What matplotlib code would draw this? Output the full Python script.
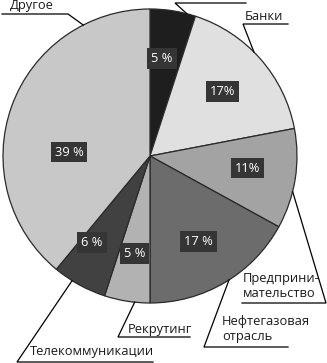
import numpy as np
import matplotlib.pyplot as plt

plt.rcParams['font.family'] = ['Open Sans', 'DejaVu Sans']

# ---------- Data ----------
categories = ["", "Банки", "Предприни-\nмательство", "Нефтегазовая\nотрасль",
              "Рекрутинг", "Телекоммуникации", "Другое"]
values = [5, 17, 11, 17, 5, 6, 39]
pct_labels = ["5 %", "17%", "11%", "17 %", "5 %", "6 %", "39 %"]
colors = ["#1e1e1e", "#e0e0e0", "#a3a3a3", "#6c6c6c", "#b2b2b2", "#414141", "#c8c8c8"]

W, H = 327, 363
cx, cy, R = 150, H - 156, 147

fig = plt.figure(figsize=(W / 100, H / 100), dpi=100)
ax = fig.add_axes([0, 0, 1, 1])

wedges, _ = ax.pie(values, colors=colors, startangle=90, counterclock=False,
                   center=(cx, cy), radius=R,
                   wedgeprops=dict(edgecolor="#2a2a2a", linewidth=0.9))
ax.set_xlim(0, W)
ax.set_ylim(0, H)
ax.set_aspect("equal")
ax.axis("off")

def pt(angle_cw, r):
    # angle measured clockwise from 12 o'clock
    t = np.radians(90 - angle_cw)
    return cx + r * np.cos(t), cy + r * np.sin(t)

# ---------- percent boxes ----------
cum = np.cumsum([0] + values)
mids = [(cum[i] + cum[i + 1]) / 2 * 3.6 for i in range(len(values))]
box_r = [0.67, 0.66, 0.67, 0.67, 0.67, 0.71, 0.55]
box_shift = [-2, 0, -2, 1, 0, 5, -17]
for m, r, s, lab in zip(mids, box_r, box_shift, pct_labels):
    x, y = pt(m + s, r * R)
    ax.text(x, y, lab, color="white", fontsize=9.3, ha="center", va="center",
            bbox=dict(boxstyle="square,pad=0.3", fc="#353535", ec="none"))

# ---------- callouts ----------
edge_ang = [14.5, 45, 104, 147.5, 186, 212, 333]
elbow = [(175, 3), (243, 24), (326, 303), (204, 347), (118, 337), (17, 362), (68, 14)]
under_end = [246, 288, 242, 288, 190, 153, 2]
text_pos = [(180, -8), (245, 16), (243, 286), (222, 329), (128, 329), (30, 352), (10, 6)]

for a, (ex, ey), ux, (tx, ty), name in zip(edge_ang, elbow, under_end, text_pos, categories):
    px, py = pt(a, R)
    ax.plot([px, ex, ux], [py, H - ey, H - ey], color="black", lw=0.9,
            solid_joinstyle="miter", clip_on=False)
    if name:
        ax.text(tx, H - ty, name, fontsize=9.3, ha="left", va="center",
                color="#1a1a1a", linespacing=1.2)

fig.savefig("out.png", dpi=100)
